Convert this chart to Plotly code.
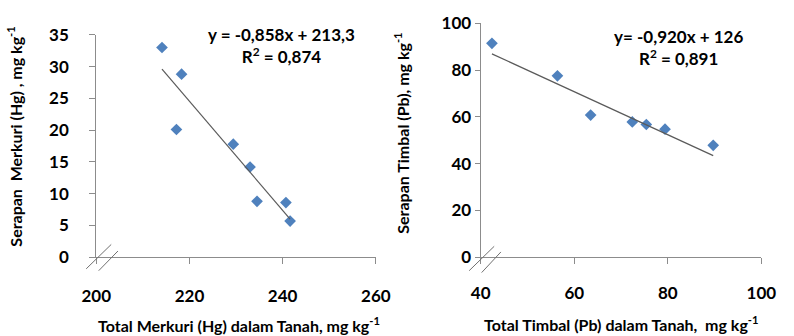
import plotly.graph_objects as go

W, H = 794, 336

# Left chart: Mercury
hg_soil = [214.1, 218.3, 217.2, 229.4, 233.0, 234.5, 240.7, 241.6]
hg_uptake = [33.0, 28.8, 20.1, 17.8, 14.2, 8.8, 8.6, 5.7]
hg_slope, hg_intercept = -0.858, 213.3
hg_xticks = [200, 220, 240, 260]
hg_yticks = [0, 5, 10, 15, 20, 25, 30, 35]

# Right chart: Lead
pb_soil = [42.4, 56.4, 63.5, 72.4, 75.4, 79.4, 89.7]
pb_uptake = [91.5, 77.6, 60.8, 57.9, 56.8, 54.8, 47.9]
pb_slope, pb_intercept = -0.920, 126.0
pb_xticks = [40, 60, 80, 100]
pb_yticks = [0, 20, 40, 60, 80, 100]

MARK = "#4F81BD"
LINE = "#5a5a5a"
AX = "#8c8c8c"
FONT = "Lato"

def px(x):
    return x / W

def py(y):
    return 1 - y / H

fig = go.Figure()

fig.add_trace(go.Scatter(x=hg_soil, y=hg_uptake, mode="markers",
                         marker=dict(symbol="diamond", size=9, color=MARK),
                         xaxis="x", yaxis="y", showlegend=False))
hx = [min(hg_soil), max(hg_soil)]
fig.add_trace(go.Scatter(x=hx, y=[hg_slope * v + hg_intercept for v in hx], mode="lines",
                         line=dict(color=LINE, width=1.2), xaxis="x", yaxis="y", showlegend=False))

fig.add_trace(go.Scatter(x=pb_soil, y=pb_uptake, mode="markers",
                         marker=dict(symbol="diamond", size=9, color=MARK),
                         xaxis="x2", yaxis="y2", showlegend=False))
pxr = [min(pb_soil), max(pb_soil)]
fig.add_trace(go.Scatter(x=pxr, y=[pb_slope * v + pb_intercept for v in pxr], mode="lines",
                         line=dict(color=LINE, width=1.2), xaxis="x2", yaxis="y2", showlegend=False))

tickfont = dict(family=FONT, size=17, color="black", weight="bold")
common = dict(showgrid=False, zeroline=False, showline=True, linecolor=AX, linewidth=1.3,
              ticks="outside", tickcolor=AX, tickfont=tickfont, fixedrange=True)

fig.update_layout(
    width=W, height=H, margin=dict(l=0, r=0, t=0, b=0),
    paper_bgcolor="white", plot_bgcolor="white",
    xaxis=dict(domain=[px(84.5), px(375)], range=[200, 260], tickvals=hg_xticks,
               anchor="y", ticklen=6, ticklabelstandoff=17, **common),
    yaxis=dict(domain=[py(262.7), py(25.4)], range=[0, 35], tickvals=hg_yticks,
               anchor="x", ticklen=6, ticklabelstandoff=17, **common),
    xaxis2=dict(domain=[px(484), px(775.7)], range=[40, 100], tickvals=pb_xticks,
                anchor="y2", ticklen=6, ticklabelstandoff=14, **common),
    yaxis2=dict(domain=[py(262.7), py(13.3)], range=[0, 100], tickvals=pb_yticks,
                anchor="x2", ticklen=5, ticklabelstandoff=0, **common),
)

# axis break marks
for (x0, y0, x1, y1) in [(74, 275, 100, 249), (87, 277, 107, 256),
                         (472, 277, 498, 251), (485, 279, 505, 257)]:
    fig.add_shape(type="line", xref="paper", yref="paper",
                  x0=px(x0), y0=py(y0), x1=px(x1), y1=py(y1),
                  line=dict(color="#707070", width=1))

ann_font = dict(family=FONT, size=17, color="black", weight="bold")
title_font = dict(family=FONT, size=16, color="black", weight="bold")
anns = [
    dict(x=px(277), y=py(37), text="y = -0,858x + 213,3<br>R<sup>2</sup> = 0,874", font=ann_font,
         xanchor="center", yanchor="middle"),
    dict(x=px(690), y=py(39), text="y= -0,920x + 126<br>R<sup>2</sup> = 0,891", font=ann_font,
         xanchor="center", yanchor="middle"),
    dict(x=px(233), y=py(334), text="Total Merkuri (Hg) dalam Tanah, mg kg<sup>-1</sup>", font=title_font,
         xanchor="center", yanchor="middle"),
    dict(x=px(630), y=py(333), text="Total Timbal (Pb) dalam Tanah,  mg kg<sup>-1</sup>", font=title_font,
         xanchor="center", yanchor="middle"),
    dict(x=px(0), y=py(134), text="Serapan  Merkuri (Hg) , mg kg<sup>-1</sup>", font=title_font,
         textangle=-90, xanchor="center", yanchor="middle"),
    dict(x=px(402), y=py(130), text="Serapan Timbal (Pb), mg kg<sup>-1</sup>", font=title_font,
         textangle=-90, xanchor="center", yanchor="middle"),
]
for a in anns:
    fig.add_annotation(xref="paper", yref="paper", showarrow=False, **a)

fig.write_html("out.html")
